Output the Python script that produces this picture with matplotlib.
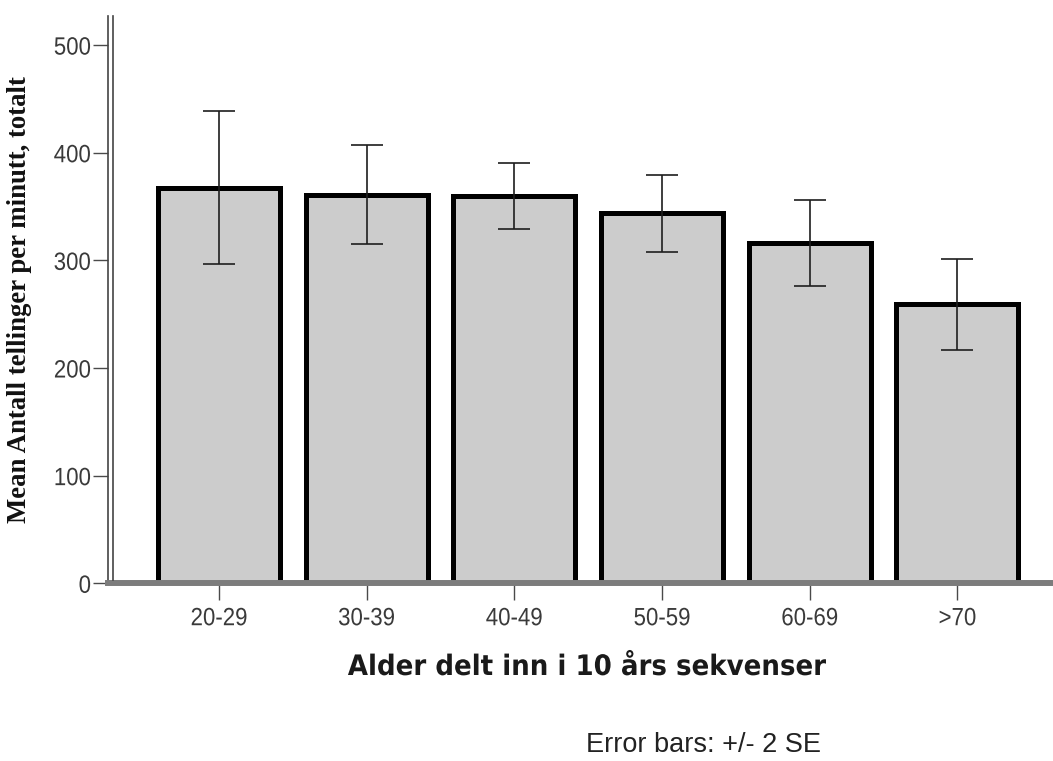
import matplotlib
matplotlib.use("Agg")
import matplotlib.pyplot as plt
from matplotlib.lines import Line2D
from matplotlib.transforms import Affine2D
from matplotlib import patheffects

# Mean counts per minute by age group, with +/- 2 SE half-widths
age_groups = ["20-29", "30-39", "40-49", "50-59", "60-69", ">70"]
mean_counts = [367.6, 361.0, 359.4, 343.7, 316.0, 259.0]
two_se = [71.0, 46.0, 30.7, 35.7, 39.8, 42.5]
y_ticks = [0, 100, 200, 300, 400, 500]


class Squeeze(patheffects.AbstractPathEffect):
    """Draw text glyphs narrower, keeping the centre or right edge fixed."""

    def __init__(self, sx, anchor="center"):
        super().__init__()
        self.sx = sx
        self.anchor = anchor

    def draw_path(self, renderer, gc, tpath, affine, rgbFace=None):
        ext = tpath.get_extents()
        xa = ext.x1 if self.anchor == "right" else (ext.x0 + ext.x1) / 2
        pre = Affine2D().translate(-xa, 0).scale(self.sx, 1).translate(xa, 0)
        renderer.draw_path(gc, tpath, pre + affine, rgbFace)


W, H, DPI = 1053, 761, 100
fig = plt.figure(figsize=(W / DPI, H / DPI), dpi=DPI, facecolor="white")

left_px, right_px, bottom_px, top_px = 108.3, 1053, 583.3, 16
ax = fig.add_axes([left_px / W, 1 - bottom_px / H,
                   (right_px - left_px) / W, (bottom_px - top_px) / H])

x = list(range(len(age_groups)))
ax.bar(x, mean_counts, width=0.826, color="#cccccc", edgecolor="black",
       linewidth=3.6, zorder=2)
ax.errorbar(x, mean_counts, yerr=two_se, fmt="none", ecolor="#1e1e1e",
            elinewidth=1.2, capsize=11.2, capthick=1.2, zorder=3)

ax.set_xlim(-0.75, 5.647)
ax.set_ylim(0, 527)
ax.set_xticks(x)
ax.set_xticklabels(age_groups)
ax.set_yticks(y_ticks)
ax.set_yticklabels([str(v) for v in y_ticks])

for s in ["top", "right"]:
    ax.spines[s].set_visible(False)
ax.spines["bottom"].set_color("#7c7c7c")
ax.spines["bottom"].set_linewidth(4.3)
ax.spines["bottom"].set_zorder(4)
ax.spines["left"].set_color("#444444")
ax.spines["left"].set_linewidth(1.2)

ax.tick_params(axis="y", length=10.8, width=1.0, color="#4a4a4a", pad=1.5,
               labelsize=18, labelcolor="#3a3a3a")
ax.tick_params(axis="x", length=12, width=1.0, color="#4a4a4a", pad=4.5,
               labelsize=18, labelcolor="#3a3a3a")
for lab in ax.get_xticklabels():
    lab.set_fontfamily("Liberation Sans")
    lab.set_path_effects([Squeeze(0.89, "center")])
for lab in ax.get_yticklabels():
    lab.set_fontfamily("Liberation Sans")
    lab.set_path_effects([Squeeze(0.89, "right")])

# second line of the double y axis
fig.add_artist(Line2D([112.7 / W, 112.7 / W], [1 - 580 / H, 1 - top_px / H],
                      color="#444444", linewidth=1.2))

ax.set_ylabel("Mean Antall tellinger per minutt, totalt",
              fontfamily="Liberation Serif", fontweight="bold", fontsize=19.3,
              color="#111111")
ax.yaxis.set_label_coords((32 - left_px) / (right_px - left_px),
                          (bottom_px - 300) / (bottom_px - top_px))

fig.text(588 / W, 1 - 667 / H, "Alder delt inn i 10 års sekvenser",
         ha="center", va="center", fontfamily="DejaVu Sans",
         fontweight="bold", fontsize=20.3, color="#1a1a1a",
         path_effects=[Squeeze(0.926, "center")])
fig.text(704 / W, 1 - 745.5 / H, "Error bars: +/- 2 SE",
         ha="center", va="center", fontfamily="Liberation Sans",
         fontsize=19.5, color="#222222")

fig.savefig("out.png", dpi=DPI, facecolor="white")
